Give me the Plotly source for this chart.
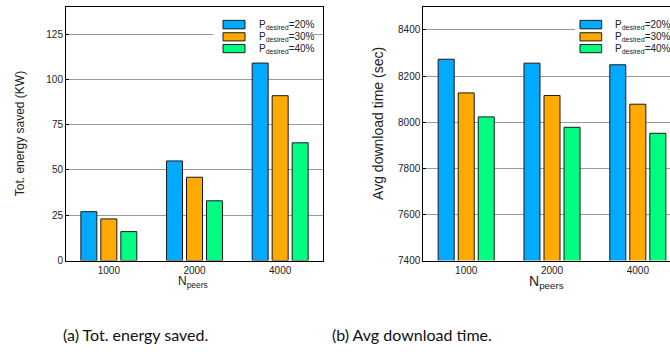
import plotly.graph_objects as go

# ---- data ----
categories = ["1000", "2000", "4000"]
series_names = ["20%", "30%", "40%"]
energy_20 = [27, 55, 109]
energy_30 = [23, 46, 91]
energy_40 = [16, 33, 65]
dl_20 = [8273, 8256, 8249]
dl_30 = [8127, 8116, 8078]
dl_40 = [8023, 7978, 7952]
energy_ticks = [0, 25, 50, 75, 100, 125]
dl_ticks = [7400, 7600, 7800, 8000, 8200, 8400]

colors = ["#00aaff", "#ffaa00", "#00ff80"]
W, H = 670, 361
FONT = "Liberation Sans, Arial, Helvetica, sans-serif"


def px(x):
    return x / W


def py(y):
    return 1 - y / H


fig = go.Figure()
left_vals = [energy_20, energy_30, energy_40]
right_vals = [dl_20, dl_30, dl_40]
for i in range(3):
    fig.add_trace(go.Bar(x=categories, y=left_vals[i], xaxis="x", yaxis="y",
                         marker=dict(color=colors[i], line=dict(color="#1a1a1a", width=1)),
                         name="P desired=" + series_names[i], showlegend=False))
for i in range(3):
    fig.add_trace(go.Bar(x=categories, y=right_vals[i], xaxis="x2", yaxis="y2",
                         marker=dict(color=colors[i], line=dict(color="#1a1a1a", width=1)),
                         name="P desired=" + series_names[i], showlegend=False))

axis_common = dict(showline=True, linecolor="black", linewidth=1,
                   tickfont=dict(family=FONT, size=10, color="#222"))
fig.update_layout(
    width=W, height=H, margin=dict(l=0, r=0, t=0, b=0),
    paper_bgcolor="white", plot_bgcolor="white",
    barmode="group", bargap=0.3, bargroupgap=0.2,
    showlegend=False,
    xaxis=dict(domain=[px(66), px(323)], range=[-0.5, 2.5], type="category",
               mirror=True, ticks="", anchor="y", **axis_common),
    yaxis=dict(domain=[py(265), py(7)], range=[0, 140], tickvals=energy_ticks,
               showgrid=True, gridcolor="#9a9a9a", gridwidth=1, zeroline=False,
               mirror=True, ticks="inside", ticklen=3, tickcolor="black",
               anchor="x", **axis_common),
    xaxis2=dict(domain=[px(423.3), 1.0], range=[-0.5, 2.375], type="category",
                mirror=True, ticks="", anchor="y2", **axis_common),
    yaxis2=dict(domain=[py(265), py(7)], range=[7400, 8500], tickvals=dl_ticks,
                showgrid=True, gridcolor="#9a9a9a", gridwidth=1, zeroline=False,
                mirror=False, ticks="inside", ticklen=3, tickcolor="black",
                anchor="x2", **axis_common),
)

shapes = []
annotations = []

# legend backgrounds + swatches (manual legends)
for (bx0, bx1, sx0, sx1, tx) in [(213, 312, 223, 245, 257), (575, 668, 580, 601.7, 613.3)]:
    shapes.append(dict(type="rect", xref="paper", yref="paper", layer="above",
                       x0=px(bx0), x1=px(bx1), y0=py(57), y1=py(16),
                       fillcolor="white", line=dict(width=0)))
    rows = [(20.7, 29.3), (33.3, 41.6), (45.3, 53.6)]
    for i, (y0, y1) in enumerate(rows):
        shapes.append(dict(type="rect", xref="paper", yref="paper", layer="above",
                           x0=px(sx0), x1=px(sx1), y0=py(y1), y1=py(y0),
                           fillcolor=colors[i], line=dict(color="#1a1a1a", width=1)))
        annotations.append(dict(xref="paper", yref="paper", x=px(tx), y=py((y0 + y1) / 2),
                                xanchor="left", yanchor="middle", showarrow=False,
                                text="P<sub>desired</sub>=" + series_names[i],
                                font=dict(family=FONT, size=10, color="#222")))

# axis titles
annotations.append(dict(xref="paper", yref="paper", x=px(20), y=py(136.5), textangle=-90,
                        showarrow=False, xanchor="center", yanchor="middle",
                        text="Tot. energy saved (KW)", font=dict(family=FONT, size=12, color="#222")))
annotations.append(dict(xref="paper", yref="paper", x=px(378), y=py(126), textangle=-90,
                        showarrow=False, xanchor="center", yanchor="middle",
                        text="Avg download time (sec)", font=dict(family=FONT, size=14, color="#222")))
annotations.append(dict(xref="paper", yref="paper", x=px(193), y=py(287),
                        showarrow=False, xanchor="center", yanchor="middle",
                        text="N<sub>peers</sub>", font=dict(family=FONT, size=12, color="#222")))
annotations.append(dict(xref="paper", yref="paper", x=px(546), y=py(287),
                        showarrow=False, xanchor="center", yanchor="middle",
                        text="N<sub>peers</sub>", font=dict(family=FONT, size=14, color="#222")))

# captions
annotations.append(dict(xref="paper", yref="paper", x=px(135), y=py(340),
                        showarrow=False, xanchor="center", yanchor="middle",
                        text="(a) Tot. energy saved.", font=dict(family="Lato", size=16, color="#111")))
annotations.append(dict(xref="paper", yref="paper", x=px(412.5), y=py(340),
                        showarrow=False, xanchor="center", yanchor="middle",
                        text="(b) Avg download time.", font=dict(family="Lato", size=16, color="#111")))

fig.update_layout(shapes=shapes, annotations=annotations)
fig.write_html("out.html", config={"displayModeBar": False},
               post_script="document.body.style.margin='0';")
